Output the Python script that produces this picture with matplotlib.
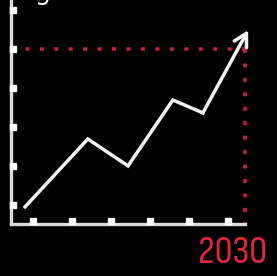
import matplotlib.pyplot as plt

# growth line
xs = [0.80, 2.41, 3.44, 4.59, 5.36]
ys = [0.95, 2.69, 2.00, 3.69, 3.36]
arrow_tip = (6.52, 5.48)

x_ticks = [1, 2, 3, 4, 5, 6]
y_ticks = [1, 2, 3, 4, 5, 6]

target_x = 6.44
target_y = 5.0
target_label = '2030'

x0, y0 = 0.44, 0.51  # axis origin

fig = plt.figure(figsize=(2.77, 2.76), dpi=100, facecolor='black')
ax = fig.add_axes([0, 0, 1, 1])
ax.set_facecolor('black')
ax.set_xlim(0.158, 7.26)
ax.set_ylim(-0.823, 6.254)
ax.axis('off')

axis_col = '#dcdcdc'
red = '#c8203a'

# red dotted guide lines
ax.plot([x0, target_x], [target_y, target_y], color=red, lw=2.6,
        linestyle=(0, (1.1, 2.9)), zorder=2)
ax.plot([target_x, target_x], [target_y, y0], color=red, lw=2.6,
        linestyle=(0, (1.1, 2.9)), zorder=2)

# axes
ax.plot([x0, x0], [y0, 6.4], color=axis_col, lw=2.4, zorder=3)
ax.plot([x0, target_x], [y0, y0], color=axis_col, lw=2.4, zorder=3)

# tick squares
ax.plot([x0 + 0.05] * len(y_ticks), y_ticks, 's', color='white', ms=5, zorder=4)
ax.plot(x_ticks, [y0 + 0.08] * len(x_ticks), 's', color='white', ms=5, zorder=4)

# the line with arrow head
ax.plot(xs, ys, color='#f2f2f2', lw=2.5, solid_joinstyle='miter', zorder=5)
ax.annotate('', xy=arrow_tip, xytext=(xs[-1], ys[-1]),
            arrowprops=dict(arrowstyle='->,head_length=0.9,head_width=0.5',
                            color='#f2f2f2', lw=2.5, shrinkA=0, shrinkB=0),
            zorder=5)

ax.text(6.13, -0.21, target_label, color='#e0283c', fontsize=29,
        family=['Sofia Sans Condensed', 'Sofia Sans Extra Condensed', 'DejaVu Sans'],
        ha='center', va='center', zorder=6)

# cut-off title at top
ax.text(1.26, 6.254, 'g', color='white', fontsize=18, ha='center',
        va='baseline', zorder=6)

fig.savefig('out.png', dpi=100, facecolor='black')
